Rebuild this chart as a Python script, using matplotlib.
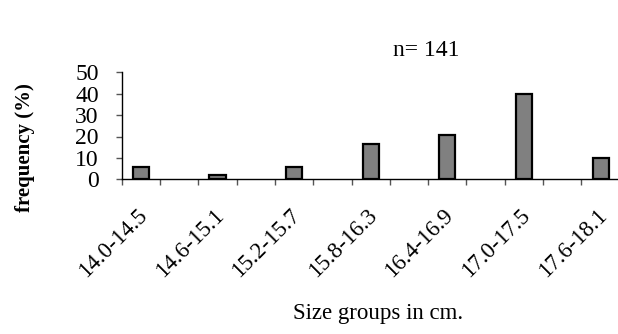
import numpy as np
import matplotlib.pyplot as plt
from matplotlib.transforms import ScaledTranslation

groups = ['14.0-14.5', '14.6-15.1', '15.2-15.7', '15.8-16.3',
          '16.4-16.9', '17.0-17.5', '17.6-18.1']
freq = [5.7, 2.1, 5.7, 16.3, 20.6, 39.7, 9.9]
n_total = 141

plt.rcParams['font.family'] = 'Liberation Serif'

fig = plt.figure(figsize=(6.18, 3.34), dpi=100)
W, H = 618, 334
ax = fig.add_axes([121.7 / W, 1 - 179.3 / H, 498 / W, 107 / H])

# bars sit in every other slot, empty slots in between
x = np.arange(len(groups)) * 2
ax.bar(x, freq, width=0.42, color='#808080', edgecolor='black', linewidth=1.6)

ax.set_xlim(-0.5, 2 * len(groups) - 1.5)
ax.set_ylim(0, 50)
ax.set_yticks(range(0, 51, 10))
ax.spines['top'].set_visible(False)
ax.spines['right'].set_visible(False)
for s in ['left', 'bottom']:
    ax.spines[s].set_linewidth(1.0)

ax.set_xticks(x)
ax.set_xticklabels(groups, rotation=45, ha='right', va='center',
                   rotation_mode='anchor')
ax.set_xticks(np.arange(-0.5, 2 * len(groups) - 1.5, 1), minor=True)
ax.tick_params(axis='x', which='major', length=0, pad=24, labelsize=16.5)
ax.tick_params(axis='x', which='minor', length=4.5, width=1.0, color='#555555')
ax.tick_params(axis='y', length=4.5, width=1.0, color='#555555',
               pad=12, labelsize=17)
for lab in ax.get_xticklabels():
    lab.set_transform(lab.get_transform() + ScaledTranslation(3 / 100, 0, fig.dpi_scale_trans))

ax.set_ylabel('frequency (%)', fontsize=15, fontweight='bold')
ax.yaxis.set_label_coords(-0.174, 0.297)
ax.set_xlabel('Size groups in cm.', fontsize=16.5)
ax.xaxis.set_label_coords(0.515, -1.16)

fig.text(426 / W, 1 - 50 / H, 'n= ' + str(n_total), fontsize=17,
         ha='center', va='center')

fig.savefig('out.png', dpi=100)
